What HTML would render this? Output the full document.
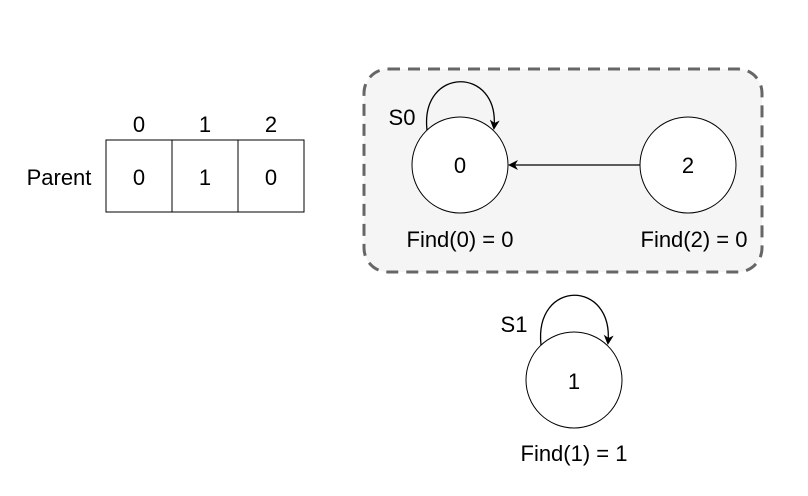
<!DOCTYPE html>
<html><head><style>body{margin:0;background:#fff}svg{display:block}</style></head><body>
<svg width="808" height="496" viewBox="0 0 808 496" xmlns="http://www.w3.org/2000/svg" font-family="Liberation Sans, Arial, sans-serif" font-size="22">
<defs><marker id="a" markerWidth="10" markerHeight="10" refX="8" refY="5" orient="auto" markerUnits="userSpaceOnUse"><path d="M0,0 L10,5 L0,10 L3,5 Z" fill="#000"/></marker></defs>
<rect x="364" y="69" width="398" height="203" rx="24" fill="#f5f5f5" stroke="#666" stroke-width="3" stroke-dasharray="12,8"/>
<g fill="#fff" stroke="#000" stroke-width="1">
<rect x="106" y="140" width="66" height="72"/><rect x="172" y="140" width="66" height="72"/><rect x="238" y="140" width="66" height="72"/>
<circle cx="460" cy="165" r="48"/><circle cx="688" cy="165" r="48"/><circle cx="574" cy="380" r="48"/>
</g>
<g fill="none" stroke="#000" stroke-width="1.3">
<line x1="640" y1="165" x2="510" y2="165" marker-end="url(#a)"/>
<path d="M427,130 C420,66 500,66 494,128" marker-end="url(#a)"/>
<path d="M541,345 C534,279 614,279 608,343" marker-end="url(#a)"/>
</g>
<g text-anchor="middle" fill="#000">
<text x="139" y="132">0</text><text x="205" y="132">1</text><text x="271" y="132">2</text>
<text x="139" y="185">0</text><text x="205" y="185">1</text><text x="271" y="185">0</text>
<text x="59" y="185">Parent</text>
<text x="460" y="173">0</text><text x="688" y="173">2</text><text x="574" y="389">1</text>
<text x="402" y="125">S0</text><text x="514" y="332">S1</text>
<text x="460" y="247">Find(0) = 0</text><text x="694" y="247">Find(2) = 0</text><text x="574" y="461">Find(1) = 1</text>
</g>
</svg>
</body></html>
